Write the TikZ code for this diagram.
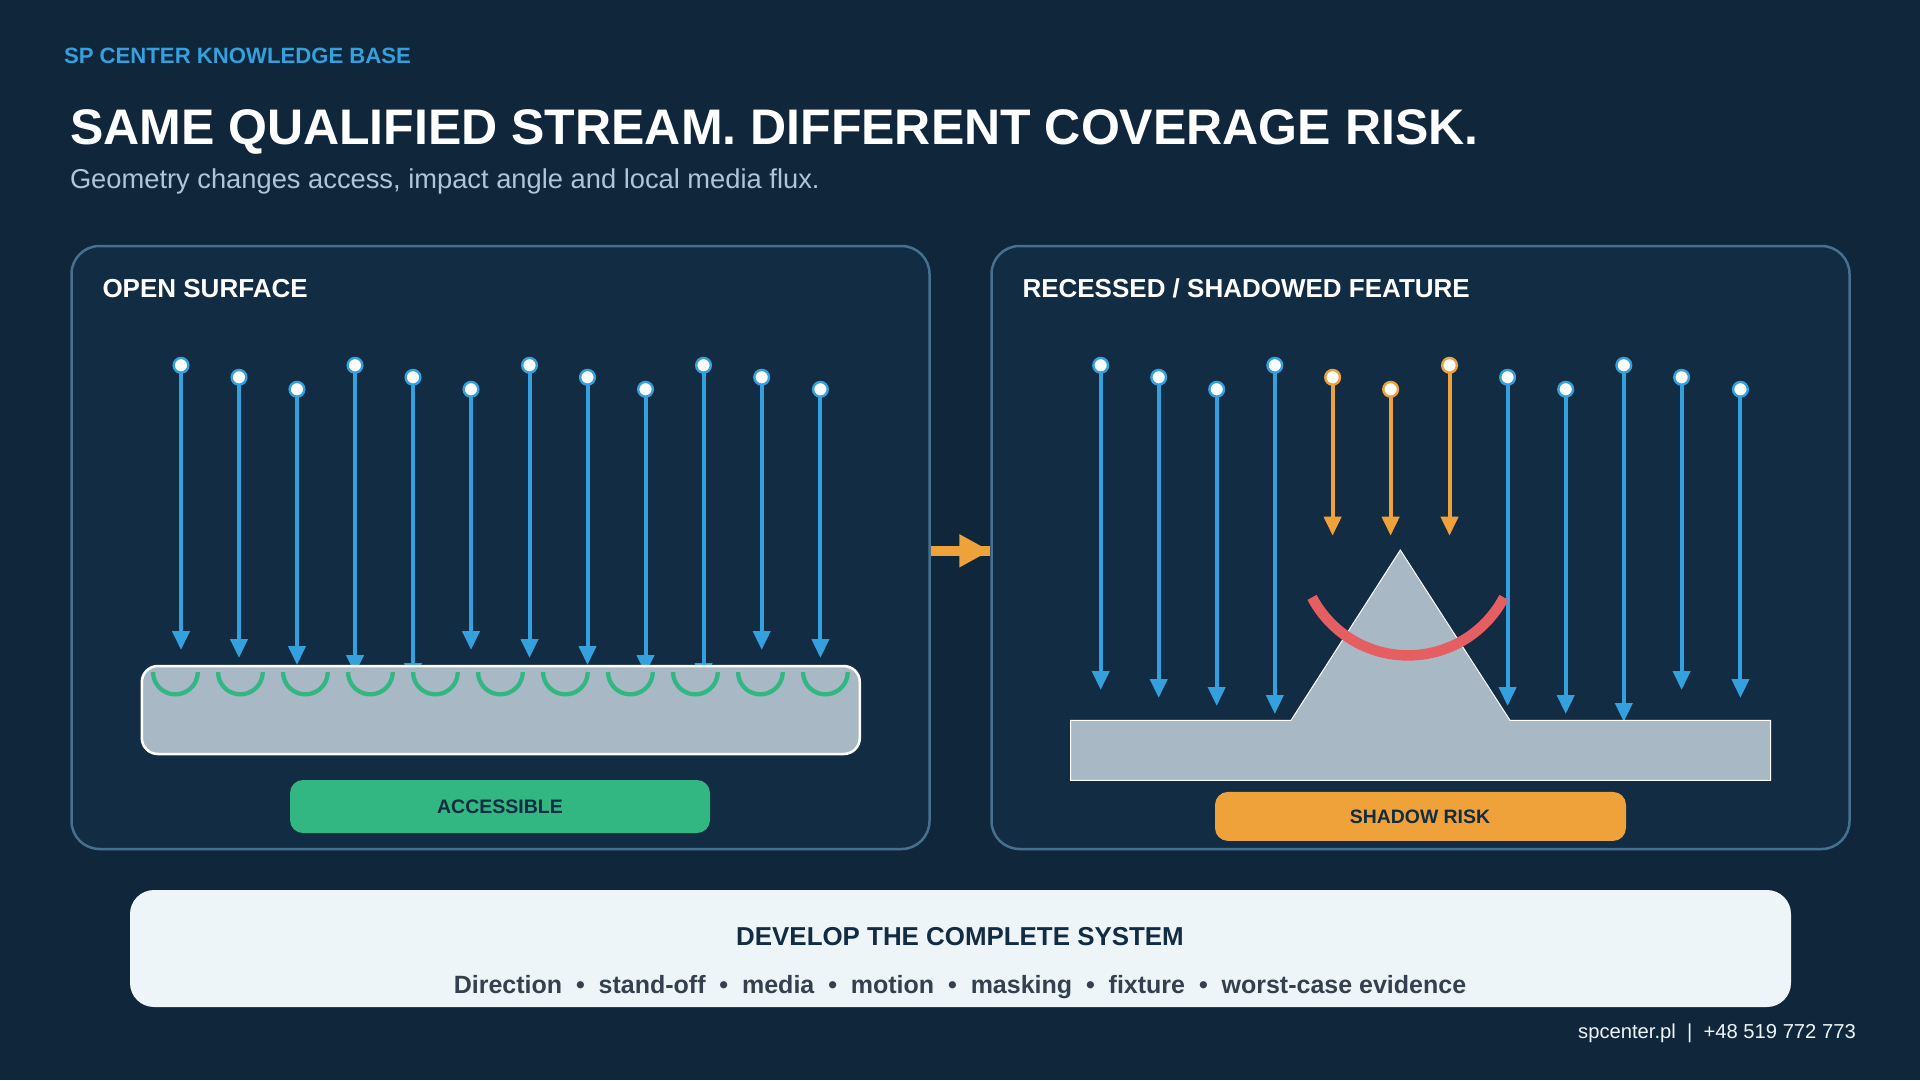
\documentclass[tikz,border=0pt]{standalone}
\usepackage{fontspec}
\setmainfont{Liberation Sans}
\usetikzlibrary{arrows.meta}
\definecolor{bgc}{HTML}{10263B}
\definecolor{panelc}{HTML}{122C43}
\definecolor{edgec}{HTML}{47708E}
\definecolor{bluec}{HTML}{34A0DE}
\definecolor{greenc}{HTML}{32B782}
\definecolor{slabc}{HTML}{A8B9C5}
\definecolor{redc}{HTML}{E55F62}
\definecolor{orangec}{HTML}{EFA23A}
\definecolor{barc}{HTML}{EDF5F9}
\definecolor{subc}{HTML}{ADC6DA}
\definecolor{greyt}{HTML}{34404D}
\tikzset{
  x=1pt,y=-1pt,
  txt/.style={inner sep=0pt,outer sep=0pt,anchor=base west},
  ctxt/.style={inner sep=0pt,outer sep=0pt,anchor=base},
  panel/.style={draw=edgec,fill=panelc,line width=2.5pt,rounded corners=28pt,minimum width=858pt,minimum height=603pt,inner sep=0pt},
  pill/.style={fill=#1,rounded corners=13pt,inner sep=0pt},
  src/.style={circle,fill=white,draw=#1,line width=2.4pt,minimum size=14.7pt,inner sep=0pt,outer sep=0pt},
  ray/.style={draw=#1,line width=4pt,-{Triangle[length=19pt,width=17pt,fill=#1]}},
}
\begin{document}
\begin{tikzpicture}
\useasboundingbox (0,0) rectangle (1920,1080);
\fill[bgc] (0,0) rectangle (1920,1080);
\node[txt,text=bluec,font=\fontsize{22.15}{22}\selectfont\bfseries] (kb) at (64,63) {SP CENTER KNOWLEDGE BASE};
\node[txt,text=white,font=\fontsize{50}{50}\selectfont\bfseries] (ttl) at (70,144) {SAME QUALIFIED STREAM. DIFFERENT COVERAGE RISK.};
\node[txt,text=subc,font=\fontsize{27.3}{27}\selectfont] (sub) at (70,188.5) {Geometry changes access, impact angle and local media flux.};
\node[panel] (p1) at (500.5,547.5) {};
\node[panel] (p2) at (1420.5,547.5) {};
\node[txt,text=white,font=\fontsize{26}{26}\selectfont\bfseries] (t1) at (102.5,297) {OPEN SURFACE};
\node[txt,text=white,font=\fontsize{26}{26}\selectfont\bfseries] (t2) at (1022.5,297) {RECESSED / SHADOWED FEATURE};
% connector between panels
\draw[orangec,line width=10pt] ([yshift=-3.3pt]p1.east) -- ([yshift=-3.3pt]p2.west);
\draw[orangec,line width=10pt,-{Triangle[length=31pt,width=31pt,fill=orangec]}] ([yshift=-3.3pt]p1.east) -- ([yshift=-3.3pt]p2.west);
% left rays
\foreach \i/\px/\py/\ey in {1/181/365.3/650,2/239/377.3/658,3/297/389.3/665,4/355/365.3/674,5/413/377.3/682,6/471/389.3/650,7/529.5/365.3/658,8/587.5/377.3/665,9/645.5/389.3/674,10/703.5/365.3/682,11/761.7/377.3/650,12/820.4/389.3/658}{
  \node[src=bluec] (a\i) at (\px,\py) {};
  \coordinate (ae\i) at (\px,\ey);
  \draw[ray=bluec] (a\i) -- (ae\i);
}
\node[fill=slabc,draw=white,line width=2.5pt,rounded corners=16pt,minimum width=718pt,minimum height=88pt,inner sep=0pt] (slab) at (500.8,710) {};
\foreach \c in {175.4,240.4,305.4,370.4,435.4,500.4,565.4,630.4,695.4,760.4,825.4}{
  \draw[greenc,line width=4.3pt] plot[domain=0:180,samples=41,smooth] ({\c+22.3*cos(\x)},{672+22.3*sin(\x)});
}
\node[pill=greenc,minimum width=420pt,minimum height=53pt] (acc) at (500,806.5) {};
\node[ctxt,text=panelc,font=\fontsize{19.5}{20}\selectfont\bfseries] (acct) at (500,813) {ACCESSIBLE};
% right rays
\foreach \i/\px/\py/\ey in {1/1100.7/365.3/690,2/1158.7/377.3/698,3/1216.7/389.3/706,4/1274.8/365.3/714,8/1507.6/377.3/706,9/1565.7/389.3/714,10/1623.8/365.3/722,11/1681.6/377.3/690,12/1740.4/389.3/698}{
  \node[src=bluec] (b\i) at (\px,\py) {};
  \coordinate (be\i) at (\px,\ey);
  \draw[ray=bluec] (b\i) -- (be\i);
}
\foreach \i/\px/\py in {5/1332.6/377.3,6/1390.6/389.3,7/1449.5/365.3}{
  \node[src=orangec] (b\i) at (\px,\py) {};
  \coordinate (be\i) at (\px,535.7);
  \draw[ray=orangec] (b\i) -- (be\i);
}
\draw[fill=slabc,draw=white,line width=1pt,line join=miter] (1070.7,720.3) -- (1291,720.3) -- (1400.3,550) -- (1510,720.3) -- (1770.5,720.3) -- (1770.5,780.3) -- (1070.7,780.3) -- cycle;
\draw[redc,line width=10.5pt] plot[domain=27.7:152.3,samples=61,smooth] ({1408+108.4*cos(\x)},{547+108.4*sin(\x)});
\node[pill=orangec,minimum width=411pt,minimum height=49pt] (sh) at (1420.5,816.4) {};
\node[ctxt,text=panelc,font=\fontsize{19.4}{20}\selectfont\bfseries] (sht) at (1420,823) {SHADOW RISK};
% bottom bar
\node[fill=barc,rounded corners=24pt,minimum width=1661pt,minimum height=117pt,inner sep=0pt] (bar) at (960.5,948.5) {};
\node[ctxt,text=panelc,font=\fontsize{25.9}{26}\selectfont\bfseries] (bt) at (960,945.5) {DEVELOP THE COMPLETE SYSTEM};
\node[ctxt,text=greyt,font=\fontsize{25}{26}\selectfont\bfseries] (bs) at (960,993) {Direction\ \ •\ \ stand-off\ \ •\ \ media\ \ •\ \ motion\ \ •\ \ masking\ \ •\ \ fixture\ \ •\ \ worst-case evidence};
\node[inner sep=0pt,anchor=base east,text=barc,font=\fontsize{20.2}{20}\selectfont] (ft) at (1856,1038) {spcenter.pl\ \ |\ \ +48 519 772 773};
\end{tikzpicture}
\end{document}
